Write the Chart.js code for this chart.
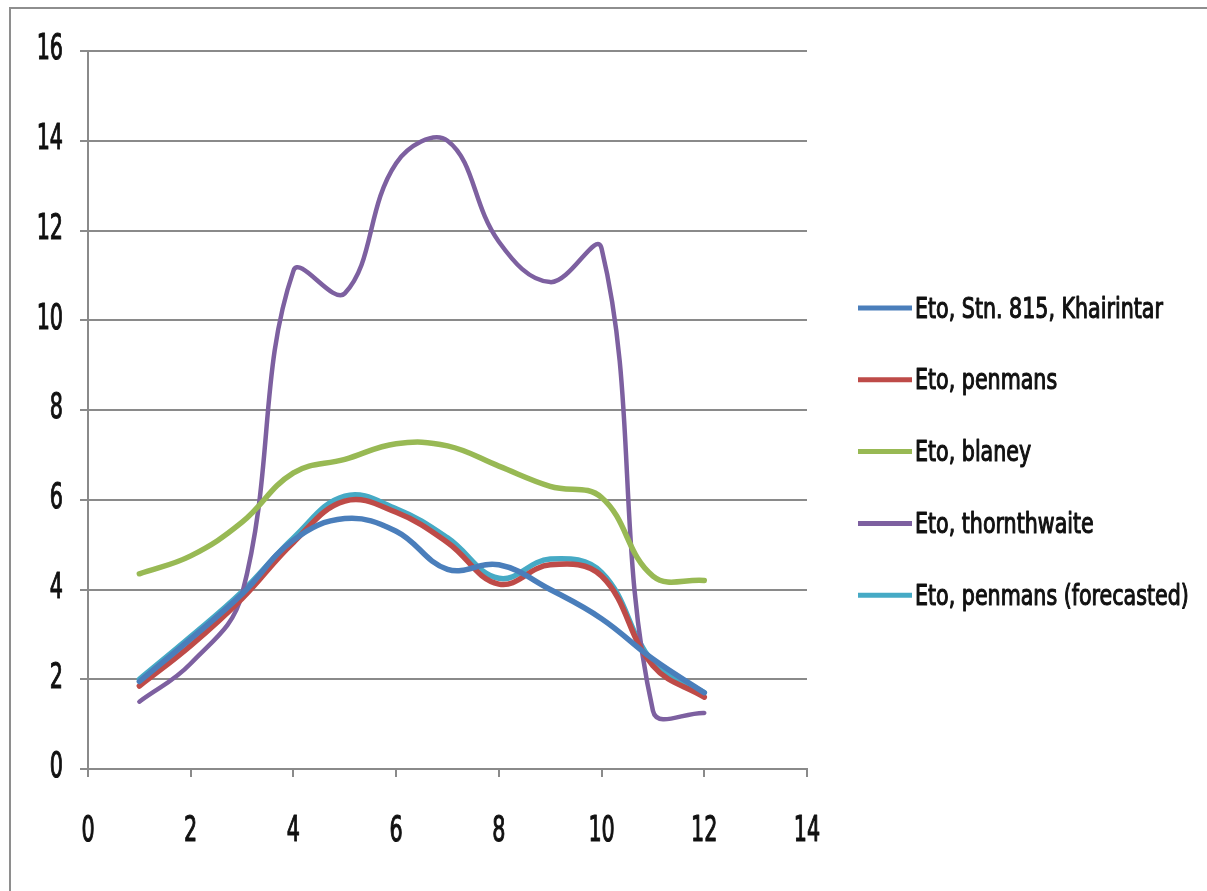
<!DOCTYPE html>
<html>
<head>
<meta charset="utf-8">
<title>Eto comparison</title>
<script src="https://cdn.jsdelivr.net/npm/chart.js@4/dist/chart.umd.min.js"></script>
<style>
  html, body { margin: 0; padding: 0; background: #ffffff; overflow: hidden; }
  canvas { display: block; }
</style>
</head>
<body>
<canvas id="chart" width="1207" height="891"></canvas>
<script>
// Month index along the x axis
const months = [1, 2, 3, 4, 5, 6, 7, 8, 9, 10, 11, 12];

// Reference evapotranspiration (mm/day) by method
const etoKhairintar   = [1.95, 2.9, 3.9, 5.1, 5.58, 5.3, 4.45, 4.55, 4.0, 3.35, 2.45, 1.7];
const etoPenmans      = [1.85, 2.75, 3.8, 5.05, 5.97, 5.72, 5.05, 4.12, 4.55, 4.3, 2.3, 1.6];
const etoBlaney       = [4.35, 4.75, 5.5, 6.6, 6.9, 7.25, 7.2, 6.75, 6.3, 6.05, 4.3, 4.2];
const etoThornthwaite = [1.5, 2.35, 3.9, 11.1, 10.6, 13.5, 14.0, 11.75, 10.85, 11.6, 1.3, 1.25];
const etoForecasted   = [2.0, 2.95, 3.95, 5.15, 6.08, 5.8, 5.15, 4.25, 4.68, 4.38, 2.38, 1.7];

const seriesLabels = [
  'Eto, Stn. 815, Khairintar',
  'Eto, penmans',
  'Eto, blaney',
  'Eto, thornthwaite',
  'Eto, penmans (forecasted)'
];

// Axis tick values
const xTicks = [0, 2, 4, 6, 8, 10, 12, 14];
const yTicks = [0, 2, 4, 6, 8, 10, 12, 14, 16];

const seriesValues = [etoKhairintar, etoPenmans, etoBlaney, etoThornthwaite, etoForecasted];
const seriesColors = ['#4a7ebb', '#be4b48', '#98b954', '#7d60a0', '#46aac5'];
const seriesWidths = [5.5, 5.5, 5.5, 4.5, 5.5];

const FONT = '"DejaVu Sans Condensed", "DejaVu Sans", sans-serif';
const GRID = '#8a8a8a';

const datasets = seriesValues.map((vals, i) => ({
  label: seriesLabels[i],
  data: months.map((m, j) => ({ x: m, y: vals[j] })),
  borderColor: seriesColors[i],
  backgroundColor: seriesColors[i],
  borderWidth: seriesWidths[i],
  pointRadius: 0,
  pointHoverRadius: 0,
  tension: 0.4,
  fill: false,
  borderCapStyle: 'round',
  borderJoinStyle: 'round'
}));

// Narrow, tall text: drawn with a horizontal squeeze and a slightly heavier stroke
function narrowText(ctx, text, x, y, size, squeeze, align) {
  ctx.save();
  ctx.font = size + 'px ' + FONT;
  ctx.textBaseline = 'middle';
  ctx.textAlign = align;
  ctx.fillStyle = '#111111';
  ctx.strokeStyle = '#111111';
  ctx.lineWidth = 1.1;
  ctx.lineJoin = 'round';
  ctx.translate(x, y);
  ctx.scale(squeeze, 1);
  ctx.fillText(text, 0, 0);
  ctx.strokeText(text, 0, 0);
  ctx.restore();
}

// Thin frame along the top and left edges of the figure
const frame = {
  id: 'frame',
  beforeDraw(chart) {
    const ctx = chart.ctx;
    ctx.save();
    ctx.strokeStyle = '#8e8e8e';
    ctx.lineWidth = 2;
    ctx.beginPath();
    ctx.moveTo(10, chart.height);
    ctx.lineTo(10, 8);
    ctx.lineTo(chart.width, 8);
    ctx.stroke();
    ctx.restore();
  }
};

// Tick labels placed from the scales' own tick positions
const tickLabels = {
  id: 'tickLabels',
  afterDraw(chart) {
    const ctx = chart.ctx;
    const xs = chart.scales.x, ys = chart.scales.y;
    ys.ticks.forEach(t => {
      narrowText(ctx, String(t.value), ys.right - 25, ys.getPixelForValue(t.value) - 1, 36, 0.64, 'right');
    });
    xs.ticks.forEach(t => {
      narrowText(ctx, String(t.value), xs.getPixelForValue(t.value), xs.top + 63, 36, 0.64, 'center');
    });
  }
};

// Legend on the right: short line sample followed by the series name
const sideLegend = {
  id: 'sideLegend',
  afterDraw(chart) {
    const ctx = chart.ctx;
    const x0 = chart.chartArea.right + 51;
    const lineLen = 54;
    const firstY = 308;
    const step = 71.8;
    chart.data.datasets.forEach((ds, i) => {
      const y = firstY + i * step;
      ctx.save();
      ctx.strokeStyle = ds.borderColor;
      ctx.lineWidth = 5;
      ctx.lineCap = 'butt';
      ctx.beginPath();
      ctx.moveTo(x0, y);
      ctx.lineTo(x0 + lineLen, y);
      ctx.stroke();
      ctx.restore();
      narrowText(ctx, ds.label, x0 + lineLen + 3, y + 2, 29, 0.79, 'left');
    });
  }
};

new Chart(document.getElementById('chart'), {
  type: 'line',
  data: { datasets },
  options: {
    responsive: false,
    animation: false,
    events: [],
    layout: { padding: { left: 10, top: 51, right: 400, bottom: 0 } },
    plugins: {
      legend: { display: false },
      tooltip: { enabled: false }
    },
    scales: {
      x: {
        type: 'linear',
        min: xTicks[0],
        max: xTicks[xTicks.length - 1],
        afterBuildTicks(scale) { scale.ticks = xTicks.map(v => ({ value: v })); },
        afterFit(scale) { scale.height = 122; },
        grid: {
          display: true,
          drawOnChartArea: false,
          drawTicks: true,
          tickLength: 8,
          color: GRID,
          lineWidth: 2
        },
        border: { display: true, color: GRID, width: 2 },
        ticks: { display: false }
      },
      y: {
        min: yTicks[0],
        max: yTicks[yTicks.length - 1],
        afterBuildTicks(scale) { scale.ticks = yTicks.map(v => ({ value: v })); },
        afterFit(scale) { scale.width = 78; },
        grid: {
          display: true,
          drawOnChartArea: true,
          drawTicks: true,
          tickLength: 8,
          color: GRID,
          lineWidth: 2
        },
        border: { display: true, color: GRID, width: 2 },
        ticks: { display: false }
      }
    }
  },
  plugins: [frame, tickLabels, sideLegend]
});
</script>
</body>
</html>
